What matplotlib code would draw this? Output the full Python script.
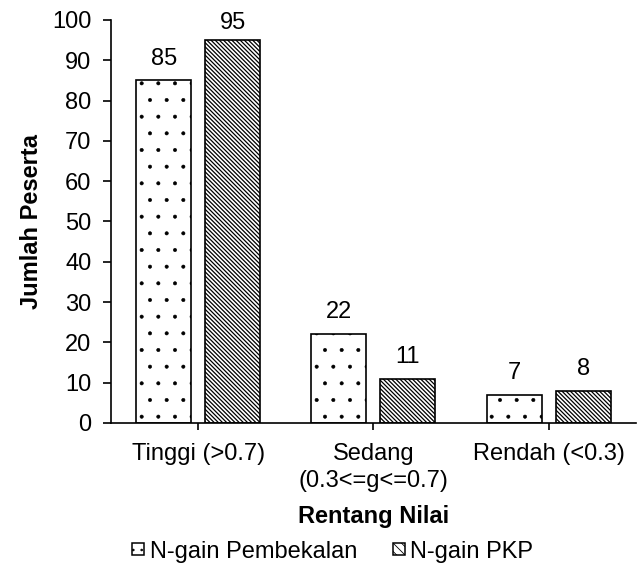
import numpy as np
import matplotlib as mpl
import matplotlib.pyplot as plt
from matplotlib.patches import Patch

plt.rcParams['font.family'] = ['Liberation Sans', 'DejaVu Sans']

categories = ['Tinggi (>0.7)', 'Sedang\n(0.3<=g<=0.7)', 'Rendah (<0.3)']
pembekalan = [85, 22, 7]
pkp = [95, 11, 8]
series_labels = ['N-gain Pembekalan', 'N-gain PKP']

FS = 17
DOTS = '.'
LINES = '\\' * 8

fig = plt.figure(figsize=(6.4, 5.63), dpi=100)
ax = fig.add_axes([0.173, 0.2487, 0.821, 0.7158])

x = np.arange(len(categories))
w = 0.314
off = 0.197
with mpl.rc_context({'hatch.linewidth': 0.4}):
    b1 = ax.bar(x - off, pembekalan, w, color='white', edgecolor='black', linewidth=1.2, hatch=DOTS)
with mpl.rc_context({'hatch.linewidth': 0.9}):
    b2 = ax.bar(x + off, pkp, w, color='white', edgecolor='black', linewidth=1.2, hatch=LINES)

# value labels above bars, kept inside the plot area
for bars, vals in [(b1, pembekalan), (b2, pkp)]:
    for r, v in zip(bars, vals):
        ax.text(r.get_x() + r.get_width() / 2, min(v + 2.7, 96.5), str(v),
                ha='center', va='bottom', fontsize=FS)

ax.set_xlim(-0.5, 2.5)
ax.set_ylim(0, 100)
ax.set_yticks(range(0, 101, 10))
ax.set_xticks(x)
ax.set_xticklabels(categories, fontsize=FS, linespacing=1.3)
ax.tick_params(axis='y', labelsize=FS, direction='out', length=6, width=1.2, pad=8)
ax.tick_params(axis='x', direction='out', length=5, width=1.2, pad=9.5)
for s in ['left', 'bottom']:
    ax.spines[s].set_linewidth(1.2)
ax.spines['top'].set_visible(False)
ax.spines['right'].set_visible(False)
ax.set_ylabel('Jumlah Peserta', fontsize=FS, fontweight='bold', labelpad=6.5)
ax.set_xlabel('Rentang Nilai', fontsize=FS, fontweight='bold', labelpad=9.5)

with mpl.rc_context({'hatch.linewidth': 0.6}):
    handles = [Patch(facecolor='white', edgecolor='black', hatch='..', linewidth=1.1),
               Patch(facecolor='white', edgecolor='black', hatch='\\\\\\\\', linewidth=1.1)]
    fig.legend(handles, series_labels, loc='lower center', bbox_to_anchor=(0.52, -0.037), ncol=2,
               frameon=False, fontsize=FS, handlelength=0.5, handleheight=0.4,
               handletextpad=0.25, columnspacing=1.5)

plt.savefig('out.png')
